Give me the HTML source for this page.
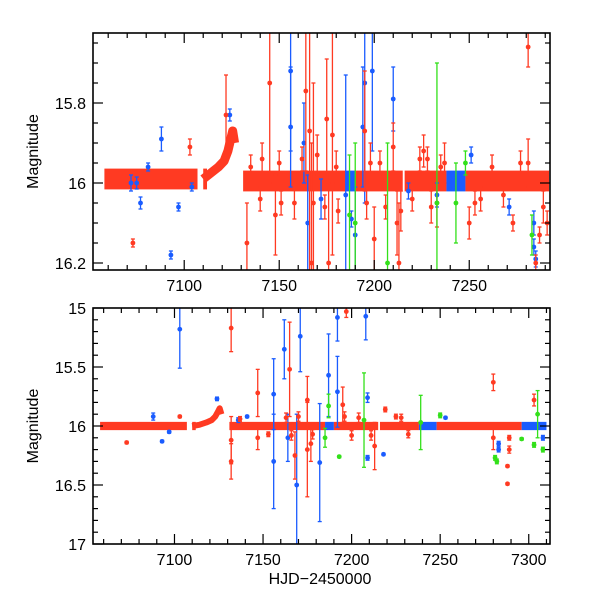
<!DOCTYPE html>
<html><head><meta charset="utf-8">
<style>
html,body{margin:0;padding:0;background:#fff;}
svg{display:block;font-family:"Liberation Sans",sans-serif;}
</style></head>
<body>
<svg id="chart" width="600" height="600" viewBox="0 0 600 600" xmlns="http://www.w3.org/2000/svg">
<g id="top"></g>
<g id="bot"></g>
<text x="320" y="584" font-size="16" text-anchor="middle">HJD−2450000</text>
</svg>
<script>
// ---- data: top panel ----
const topBandT0 = [7058,7110,7131,7185,7190,7216,7238,7248];
const topBandT1 = [7107,7112,7185,7190,7215,7238,7248,7292];
const topBandMag = [15.99,15.99,15.995,15.995,15.995,15.995,15.995,15.995];
const topBandColor = ['r','r','r','b','r','r','b','r'];
const topBumpT = [7110,7114,7118,7121,7123,7124.5,7125.5,7126.5];
const topBumpMag = [15.99,15.975,15.96,15.945,15.92,15.89,15.87,15.9];
const topOutT = [7088,7093,7097,7077,7075,7124,7156,7156,7163,7165,7172,7185,7188,7194,7195,7199,7210,7218,7233,7251,7271,7284,7284,7285,7072,7081,7104,7190,
 7073,7103,7122,7133,7145,7141,7148,7151,7164,7166,7167,7168,7175,7176,7178,7181,7195,7198,7200,7210,7212,7213,7214,7226,7228,7233,7237,7250,7253,7273,7281,7281,7285,7287,
 7135,7140,7150,7158,7162,7170,7174,7180,7196,7203,7206,7220,7224,7230,7235,7256,7262,7268,7277,7289,7291,
 7187,7190,7207,7233,7243,7248,7283];
const topOutMag = [15.89,16.18,16.06,16.05,16.0,15.83,15.72,15.86,15.9,16.1,16.04,16.03,16.09,15.86,15.75,15.72,15.79,16.02,16.03,15.93,16.06,16.1,16.16,16.19,16.0,15.96,16.01,16.13,
 16.15,15.91,15.83,16.15,15.75,15.94,16.08,16.05,15.77,15.87,16.2,16.05,15.84,16.2,15.88,16.07,15.87,15.95,16.14,15.91,16.1,16.2,16.07,15.92,15.94,16.05,15.95,16.1,16.05,16.1,15.66,15.95,16.2,16.13,
 15.96,16.04,15.95,16.05,15.94,15.93,16.06,15.96,16.05,15.95,16.06,16.04,15.94,16.06,15.96,16.04,15.96,16.03,15.95,16.06,16.1,
 16.08,16.1,16.2,16.05,16.05,15.95,16.13];
const topOutErr = [0.03,0.01,0.01,0.015,0.015,0.015,0.2,0.15,0.1,0.12,0.05,0.3,0.02,0.15,0.3,0.2,0.08,0.02,0.03,0.02,0.02,0.03,0.02,0.02,0.02,0.01,0.01,0.12,
 0.01,0.02,0.1,0.1,0.25,0.04,0.1,0.03,0.2,0.5,0.3,0.3,0.15,0.2,0.3,0.03,0.15,0.05,0.08,0.06,0.08,0.15,0.05,0.04,0.03,0.06,0.05,0.04,0.03,0.02,0.05,0.06,0.02,0.02,
 0.03,0.03,0.03,0.04,0.03,0.05,0.03,0.04,0.04,0.03,0.03,0.03,0.03,0.04,0.03,0.03,0.03,0.03,0.03,0.04,0.03,
 0.15,0.2,0.3,0.35,0.1,0.03,0.05];
const topOutColor = ['b','b','b','b','b','b','b','b','b','b','b','b','b','b','b','b','b','b','b','b','b','b','b','b','b','b','b','b',
 'r','r','r','r','r','r','r','r','r','r','r','r','r','r','r','r','r','r','r','r','r','r','r','r','r','r','r','r','r','r','r','r','r','r',
 'r','r','r','r','r','r','r','r','r','r','r','r','r','r','r','r','r','r','r','r','r',
 'g','g','g','g','g','g','g'];
const topYTicks = [15.8,16,16.2];
const topYLabels = ['15.8','16','16.2'];
const topXTicks = [7100,7150,7200,7250];

// ---- data: bottom panel ----
const botBandT0 = [7058,7110,7131,7185,7190,7216,7238,7248,7296];
const botBandT1 = [7107,7112,7185,7190,7215,7238,7248,7296,7310];
const botBandMag = [16.0,16.0,16.0,16.0,16.0,16.0,16.0,16.0,16.0];
const botBandColor = ['r','r','r','b','r','r','b','r','b'];
const botBumpT = [7110,7114,7118,7121,7123,7124.5,7125.5,7126.5];
const botBumpMag = [16.0,15.99,15.97,15.95,15.92,15.88,15.85,15.9];
const botOutT = [7088,7103,7097,7093,7124,7136,7141,7156,7156,7162,7164,7169,7171,7182,7187,7192,7192,7208,7209,7209,7218,7253,7283,7283,7308,
 7073,7103,7132,7132,7132,7137,7147,7147,7153,7165,7168,7175,7175,7177,7195,7197,7213,7219,7225,7280,7280,7288,7288,7289,7303,7289,
 7163,7166,7170,7178,7196,7200,7204,7211,7228,7232,
 7185,7187,7193,7207,7239,7250,7281,7282,7296,7303,7305,7308];
const botOutMag = [15.92,15.18,16.05,16.13,15.77,15.95,15.92,15.73,16.3,15.35,16.1,16.5,15.24,16.31,15.57,15.08,15.71,15.07,15.76,16.27,16.24,15.93,16.15,16.2,16.1,
 16.14,15.92,15.17,16.12,16.3,15.94,15.72,16.1,16.07,15.52,16.25,15.78,16.2,16.15,15.82,15.03,16.17,15.86,15.92,15.63,16.1,16.34,16.49,16.2,15.78,16.1,
 15.93,16.08,15.92,16.07,15.92,16.08,15.93,16.08,15.93,16.07,
 16.1,15.83,16.26,15.95,15.97,15.91,16.27,16.3,16.11,16.16,15.9,16.2];
const botOutErr = [0.03,0.33,0.01,0.01,0.015,0.02,0.01,0.3,0.4,0.25,0.2,0.6,0.3,0.5,0.35,0.2,0.3,0.2,0.04,0.02,0.01,0.01,0.02,0.02,0.02,
 0.01,0.01,0.2,0.2,0.15,0.02,0.2,0.1,0.02,0.4,0.2,0.2,0.4,0.15,0.15,0.05,0.2,0.02,0.02,0.07,0.1,0.01,0.01,0.03,0.05,0.02,
 0.04,0.04,0.04,0.04,0.04,0.04,0.04,0.04,0.03,0.03,
 0.08,0.1,0.01,0.4,0.23,0.02,0.02,0.02,0.01,0.02,0.2,0.02];
const botOutColor = ['b','b','b','b','b','b','b','b','b','b','b','b','b','b','b','b','b','b','b','b','b','b','b','b','b',
 'r','r','r','r','r','r','r','r','r','r','r','r','r','r','r','r','r','r','r','r','r','r','r','r','r','r',
 'r','r','r','r','r','r','r','r','r','r',
 'g','g','g','g','g','g','g','g','g','g','g','g'];
const botYTicks = [15,15.5,16,16.5,17];
const botYLabels = ['15','15.5','16','16.5','17'];
const botXTicks = [7100,7150,7200,7250,7300];

const COL = {r:'#ff3a22', b:'#1a5cff', g:'#33e01a'};
const NS = 'http://www.w3.org/2000/svg';
function mk(tag, attrs, parent){const e=document.createElementNS(NS,tag);for(const k in attrs)e.setAttribute(k,attrs[k]);parent.appendChild(e);return e;}

function panel(g, cfg){
  const {L,R,T,B,x0,x1,y0,y1} = cfg;
  const X = t => L + (t-x0)/(x1-x0)*(R-L);
  const Y = m => T + (m-y0)/(y1-y0)*(B-T);
  const clip = 'clip'+cfg.id;
  const cp = mk('clipPath',{id:clip},g); mk('rect',{x:L,y:T,width:R-L,height:B-T},cp);
  const data = mk('g',{'clip-path':'url(#'+clip+')'},g);
  for(let i=0;i<cfg.bandT0.length;i++){
    const r = mk('rect',{x:X(cfg.bandT0[i]),y:Y(cfg.bandMag[i]-cfg.bandHalf),width:X(cfg.bandT1[i])-X(cfg.bandT0[i]),height:Y(cfg.bandMag[i]+cfg.bandHalf)-Y(cfg.bandMag[i]-cfg.bandHalf),fill:COL[cfg.bandColor[i]]},data);
    
    
  }
  const pts = cfg.bumpT.map((t,i)=>X(t)+','+Y(cfg.bumpMag[i])).join(' ');
  const bp = mk('polyline',{points:pts,fill:'none',stroke:COL.r,'stroke-width':cfg.bumpW,'stroke-linejoin':'round'},data);
  
  
  for(let i=0;i<cfg.outT.length;i++){
    const c = COL[cfg.outColor[i]], x = X(cfg.outT[i]), y = Y(cfg.outMag[i]);
    const ya = Y(cfg.outMag[i]-cfg.outErr[i]), yb = Y(cfg.outMag[i]+cfg.outErr[i]);
    const pg = mk('g',{},data);
    
    
    mk('line',{x1:x,x2:x,y1:ya,y2:yb,stroke:c,'stroke-width':1.3},pg);
    mk('line',{x1:x-2,x2:x+2,y1:ya,y2:ya,stroke:c,'stroke-width':1.3},pg);
    mk('line',{x1:x-2,x2:x+2,y1:yb,y2:yb,stroke:c,'stroke-width':1.3},pg);
    mk('circle',{cx:x,cy:y,r:2.4,fill:c},pg);
  }
  const fr = mk('rect',{x:L,y:T,width:R-L,height:B-T,fill:'none',stroke:'#000','stroke-width':1.6},g);
  
  
  for(let t=Math.ceil(x0/10)*10;t<=x1;t+=10){
    const major = t%50===0, len = major?10:5, x=X(t);
    mk('line',{x1:x,x2:x,y1:B,y2:B-len,stroke:'#000','stroke-width':1.2},g);
    mk('line',{x1:x,x2:x,y1:T,y2:T+len,stroke:'#000','stroke-width':1.2},g);
  }
  cfg.xTicks.forEach(t=>{
    const tx = mk('text',{x:X(t),y:B+21,'font-size':16,'text-anchor':'middle'},g);
    tx.textContent = String(t);
    
    
  });
  for(let k=Math.ceil(y0/cfg.yMinor-1e-6);k*cfg.yMinor<=y1+1e-9;k++){
    const m=k*cfg.yMinor, y=Y(m);
    const major = cfg.yTicks.some(v=>Math.abs(v-m)<1e-6), len = major?10:5;
    mk('line',{x1:L,x2:L+len,y1:y,y2:y,stroke:'#000','stroke-width':1.2},g);
    mk('line',{x1:R,x2:R-len,y1:y,y2:y,stroke:'#000','stroke-width':1.2},g);
  }
  cfg.yTicks.forEach((m,i)=>{
    const tx = mk('text',{x:L-7,y:Y(m)+6,'font-size':16,'text-anchor':'end'},g);
    tx.textContent = cfg.yLabels[i];
    
    
  });
  const yt = mk('text',{x:0,y:0,'font-size':16,'text-anchor':'middle',transform:'translate(38,'+((T+B)/2)+') rotate(-90)'},g);
  yt.textContent='Magnitude';
  
  
}

panel(document.getElementById('top'),{id:'t',L:93,R:550,T:33,B:270,x0:7052,x1:7292.5,y0:15.625,y1:16.2175,
  bandT0:topBandT0,bandT1:topBandT1,bandMag:topBandMag,bandColor:topBandColor,bandHalf:0.026,
  bumpT:topBumpT,bumpMag:topBumpMag,bumpW:9,
  outT:topOutT,outMag:topOutMag,outErr:topOutErr,outColor:topOutColor,
  xTicks:topXTicks,yTicks:topYTicks,yLabels:topYLabels,yMinor:0.05});
panel(document.getElementById('bot'),{id:'b',L:93,R:550,T:308,B:544,x0:7054,x1:7312,y0:15,y1:17,
  bandT0:botBandT0,bandT1:botBandT1,bandMag:botBandMag,bandColor:botBandColor,bandHalf:0.035,
  bumpT:botBumpT,bumpMag:botBumpMag,bumpW:6,
  outT:botOutT,outMag:botOutMag,outErr:botOutErr,outColor:botOutColor,
  xTicks:botXTicks,yTicks:botYTicks,yLabels:botYLabels,yMinor:0.1});
</script>
</body></html>
